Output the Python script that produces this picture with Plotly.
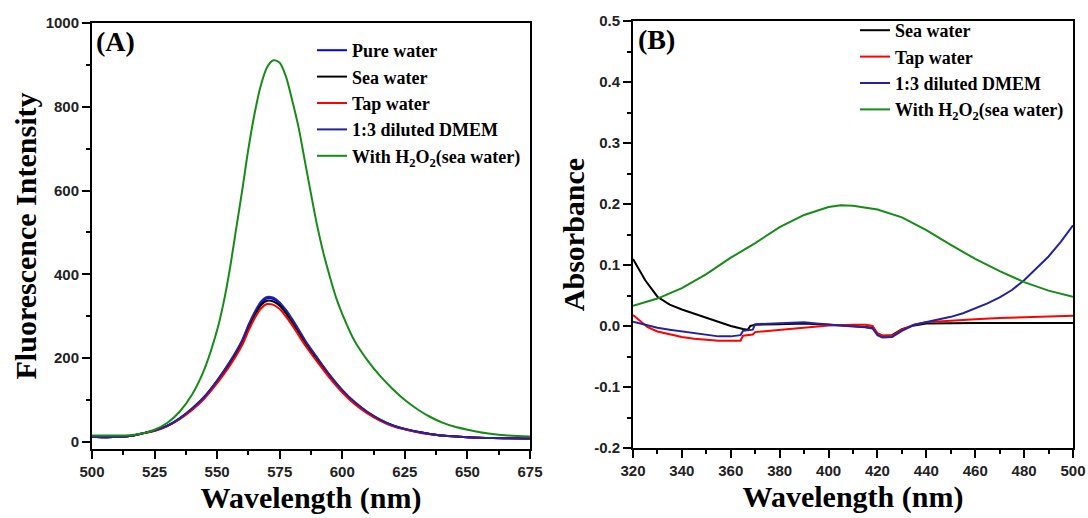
import plotly.graph_objects as go

# ---------------- Panel A: fluorescence ----------------
wl_a = [500, 505, 510, 515, 520, 525, 530, 535, 540, 545, 550, 555, 560, 562.5, 565, 567.5,
        570, 572.5, 575, 577.5, 580, 582.5, 585, 587.5, 590, 595, 600, 605, 610, 615, 620,
        625, 630, 635, 640, 650, 660, 675]
pure_water = [12, 11, 12, 14, 20, 27, 38, 56, 79, 108, 146, 189, 241, 276, 307, 331,
              343, 341, 330, 312, 290, 266, 242, 220, 199, 158, 123, 94, 71, 53, 40,
              31, 24, 19, 15, 11, 9, 8]
sea_water = [12, 11, 12, 14, 20, 27, 38, 55, 78, 106, 144, 186, 237, 272, 302, 326,
             337, 335, 325, 307, 285, 262, 238, 216, 196, 155, 121, 92, 70, 52, 39,
             30, 24, 19, 15, 11, 9, 8]
tap_water = [12, 11, 12, 14, 20, 26, 37, 54, 76, 104, 140, 181, 231, 265, 295, 318,
             329, 327, 317, 299, 278, 255, 232, 211, 191, 152, 118, 90, 68, 51, 38,
             30, 23, 18, 15, 11, 9, 8]
dmem = [12, 11, 12, 14, 20, 27, 38, 56, 80, 109, 147, 191, 243, 279, 310, 335,
        346, 344, 333, 315, 293, 269, 244, 222, 201, 160, 124, 95, 72, 54, 40,
        31, 24, 19, 15, 11, 9, 8]
wl_a_h2o2 = [500, 505, 510, 515, 520, 525, 530, 535, 540, 545, 550, 552.5, 555, 557.5, 560,
             562.5, 565, 567.5, 570, 572.5, 575, 577.5, 580, 582.5, 585, 587.5, 590,
             592.5, 595, 597.5, 600, 605, 610, 615, 620, 625, 630, 635, 640, 645, 650,
             655, 660, 665, 670, 675]
h2o2_sea = [15, 15, 15, 16, 20, 29, 45, 72, 113, 175, 267, 330, 410, 505, 600,
            700, 785, 852, 895, 911, 905, 872, 815, 752, 672, 592, 515,
            450, 395, 345, 305, 240, 195, 158, 127, 100, 78, 60, 46, 36, 29,
            23, 19, 16, 14, 13]

# ---------------- Panel B: absorbance ----------------
wl_b_sea = [320, 325, 330, 335, 340, 345, 350, 355, 360, 365, 367, 368, 370, 380, 390, 400,
            410, 418, 420, 422, 426, 430, 435, 440, 450, 460, 470, 480, 490, 500]
abs_sea = [0.110, 0.075, 0.048, 0.035, 0.027, 0.020, 0.014, 0.007, 0.000, -0.005, -0.006,
           0.000, 0.002, 0.003, 0.004, 0.002, 0.000, -0.003, -0.012, -0.016, -0.015,
           -0.005, 0.001, 0.004, 0.005, 0.005, 0.005, 0.005, 0.005, 0.005]
wl_b_tap = [320, 323, 326, 330, 335, 340, 345, 350, 355, 360, 364, 365, 369, 370, 375, 380,
            385, 390, 395, 400, 410, 415, 418, 420, 422, 426, 430, 435, 440, 450, 460,
            470, 480, 490, 500]
abs_tap = [0.018, 0.008, -0.002, -0.009, -0.014, -0.018, -0.021, -0.023, -0.024, -0.024,
           -0.024, -0.016, -0.014, -0.010, -0.008, -0.006, -0.004, -0.002, 0.000, 0.001,
           0.002, 0.002, 0.000, -0.012, -0.016, -0.016, -0.006, 0.002, 0.006, 0.009,
           0.011, 0.013, 0.014, 0.016, 0.017]
wl_b_dmem = [320, 325, 330, 335, 340, 345, 350, 355, 360, 364, 365, 369, 370, 375, 380, 385,
             390, 395, 400, 405, 410, 415, 418, 420, 422, 426, 430, 435, 440, 445, 450,
             455, 460, 465, 470, 475, 480, 485, 490, 495, 500]
abs_dmem = [0.007, 0.002, -0.003, -0.006, -0.009, -0.012, -0.015, -0.017, -0.017, -0.015,
            -0.008, -0.006, 0.003, 0.004, 0.005, 0.006, 0.006, 0.004, 0.002, 0.000,
            -0.001, -0.002, -0.004, -0.015, -0.019, -0.018, -0.008, 0.002, 0.006, 0.010,
            0.015, 0.021, 0.029, 0.037, 0.047, 0.059, 0.075, 0.094, 0.114, 0.138, 0.165]
wl_b_h2o2 = [320, 330, 340, 350, 360, 370, 380, 390, 400, 405, 410, 420, 430, 440, 450, 460,
             470, 480, 490, 500]
abs_h2o2 = [0.033, 0.045, 0.062, 0.085, 0.112, 0.136, 0.162, 0.182, 0.195, 0.198, 0.197,
            0.191, 0.178, 0.157, 0.133, 0.110, 0.090, 0.072, 0.058, 0.048]

b_ytickvals = [-0.2, -0.1, 0.0, 0.1, 0.2, 0.3, 0.4, 0.5]
b_yticktext = ["-0.2", "-0.1", "0.0", "0.1", "0.2", "0.3", "0.4", "0.5"]

C_BLUE = "#0000FF"
C_BLACK = "#000000"
C_RED = "#FF0000"
C_NAVY = "#23239F"
C_GREEN = "#178A17"
H2O2_NAME = "With H<sub>2</sub>O<sub>2</sub>(sea water)"

fig = go.Figure()
LW = 2
# Panel A traces
for x, y, name, col in [
    (wl_a, pure_water, "Pure water", C_BLUE),
    (wl_a, sea_water, "Sea water", C_BLACK),
    (wl_a, tap_water, "Tap water", C_RED),
    (wl_a, dmem, "1:3 diluted DMEM", C_NAVY),
    (wl_a_h2o2, h2o2_sea, H2O2_NAME, C_GREEN),
]:
    fig.add_trace(go.Scatter(x=x, y=y, name=name, mode="lines",
                             line=dict(color=col, width=LW, shape="spline", smoothing=0.8),
                             xaxis="x", yaxis="y", legend="legend"))
# Panel B traces
for x, y, name, col in [
    (wl_b_sea, abs_sea, "Sea water", C_BLACK),
    (wl_b_tap, abs_tap, "Tap water", C_RED),
    (wl_b_dmem, abs_dmem, "1:3 diluted DMEM", C_NAVY),
    (wl_b_h2o2, abs_h2o2, H2O2_NAME, C_GREEN),
]:
    fig.add_trace(go.Scatter(x=x, y=y, name=name, mode="lines",
                             line=dict(color=col, width=LW),
                             xaxis="x2", yaxis="y2", legend="legend2"))

W, H = 1088, 518
tickfont = dict(family="Liberation Sans", size=15, color="#222", weight="bold")
titlefont = dict(family="Liberation Serif", size=30, color="#000", weight="bold")
axis_common = dict(showline=True, linecolor="#000", linewidth=2, mirror=True,
                   ticks="outside", ticklen=8, tickwidth=2, tickcolor="#000",
                   showgrid=False, zeroline=False, tickfont=tickfont, automargin=False)

legend_font = dict(family="Liberation Serif", size=18, color="#000", weight="bold")

fig.update_layout(
    width=W, height=H,
    margin=dict(l=0, r=0, t=0, b=0, autoexpand=False),
    paper_bgcolor="white", plot_bgcolor="white",
    xaxis=dict(domain=[92 / W, 530 / W], range=[500, 675], dtick=25, tick0=500,
               minor=dict(ticks="outside", ticklen=4, tickwidth=2, dtick=12.5, tick0=500),
               title=dict(text="Wavelength (nm)", font=titlefont, standoff=8),
               anchor="y", **axis_common),
    yaxis=dict(domain=[(H - 449) / H, (H - 23) / H], range=[-17, 1000], dtick=200, tick0=0,
               minor=dict(ticks="outside", ticklen=4, tickwidth=2, dtick=100, tick0=0),
               title=dict(text="Fluorescence Intensity", font=titlefont, standoff=0),
               anchor="x", **axis_common),
    xaxis2=dict(domain=[633 / W, 1073 / W], range=[320, 500], dtick=20, tick0=320,
                minor=dict(ticks="outside", ticklen=4, tickwidth=2, dtick=10, tick0=320),
                title=dict(text="Wavelength (nm)", font=titlefont, standoff=8),
                anchor="y2", **axis_common),
    yaxis2=dict(domain=[(H - 448) / H, (H - 21) / H], range=[-0.2, 0.5],
                tickvals=b_ytickvals, ticktext=b_yticktext,
                minor=dict(ticks="outside", ticklen=4, tickwidth=2, dtick=0.05, tick0=0),
                title=dict(text="Absorbance", font=titlefont, standoff=1),
                anchor="x2", **axis_common),
    legend=dict(x=312 / W, y=(H - 32) / H, xanchor="left", yanchor="top",
                font=legend_font, bgcolor="rgba(0,0,0,0)", tracegroupgap=0),
    legend2=dict(x=855 / W, y=(H - 12) / H, xanchor="left", yanchor="top",
                 font=legend_font, bgcolor="rgba(0,0,0,0)", tracegroupgap=0),
    annotations=[
        dict(text="(A)", x=94 / W, y=(H - 24) / H, xref="paper", yref="paper",
             xanchor="left", yanchor="top", showarrow=False,
             font=dict(family="Liberation Serif", size=28, color="#000", weight="bold")),
        dict(text="(B)", x=636 / W, y=(H - 22) / H, xref="paper", yref="paper",
             xanchor="left", yanchor="top", showarrow=False,
             font=dict(family="Liberation Serif", size=28, color="#000", weight="bold")),
    ],
)

fig.write_html("out.html")
